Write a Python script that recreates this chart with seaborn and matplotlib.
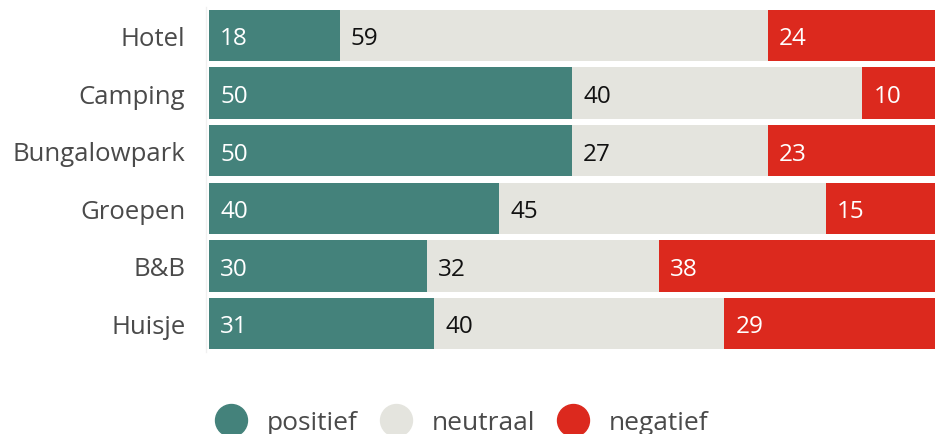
import seaborn as sns
import matplotlib.pyplot as plt
import numpy as np
import pandas as pd
from matplotlib.lines import Line2D

categories = ["Hotel", "Camping", "Bungalowpark", "Groepen", "B&B", "Huisje"]
positief = [18, 50, 50, 40, 30, 31]
neutraal = [59, 40, 27, 45, 32, 40]
negatief = [24, 10, 23, 15, 38, 29]

series = ["positief", "neutraal", "negatief"]
colors = {"positief": "#44827b", "neutraal": "#e4e4de", "negatief": "#dc291e"}
text_colors = {"positief": "white", "neutraal": "#111111", "negatief": "white"}

df = pd.DataFrame({"cat": categories, "positief": positief,
                   "neutraal": neutraal, "negatief": negatief})
df["c1"] = df["positief"]
df["c2"] = df["c1"] + df["neutraal"]
df["c3"] = df["c2"] + df["negatief"]

sns.set_style("white")
plt.rcParams["font.family"] = ["Open Sans", "DejaVu Sans"]

fig = plt.figure(figsize=(9.35, 4.35), dpi=100)
ax = fig.add_axes([209 / 935, 1 - 353.3 / 435, 1 - 209 / 935, (353.3 - 7.7) / 435])

# stacked by overdrawing cumulative totals
for col, s in zip(["c3", "c2", "c1"], ["negatief", "neutraal", "positief"]):
    sns.barplot(data=df, x=col, y="cat", orient="h", color=colors[s],
                width=0.89, saturation=1, linewidth=0, ax=ax)

# value labels at the left edge of each segment
starts = {"positief": np.zeros(len(df)), "neutraal": df["c1"].values,
          "negatief": df["c2"].values}
for s in series:
    for i, (left, v) in enumerate(zip(starts[s], df[s].values)):
        ax.annotate(str(v), xy=(left, i), xytext=(8, 0), textcoords="offset points",
                    va="center_baseline", ha="left", fontsize=17.5,
                    color=text_colors[s])

ax.set_xlim(0, 100)
ax.set_ylim(5.5, -0.5)
ax.set_xlabel("")
ax.set_ylabel("")
ax.set_xticks([])
ax.tick_params(axis="y", length=0, pad=15, labelsize=18.5, labelcolor="#4a4a4a")
for sp in ["top", "right", "bottom"]:
    ax.spines[sp].set_visible(False)
ax.spines["left"].set_color("#f0f0f0")
ax.spines["left"].set_linewidth(1)
ax.spines["left"].set_position(("outward", 2))

handles = [Line2D([], [], marker="o", linestyle="", markersize=23,
                  markerfacecolor=colors[s], markeredgecolor=colors[s]) for s in series]
fig.legend(handles, series, loc="center", bbox_to_anchor=(463 / 935, 1 - 424 / 435),
           ncol=3, frameon=False, fontsize=19, labelcolor="#4a4a4a",
           handletextpad=0.86, columnspacing=0.94, handlelength=1.0)

fig.savefig("out.png", dpi=100)
